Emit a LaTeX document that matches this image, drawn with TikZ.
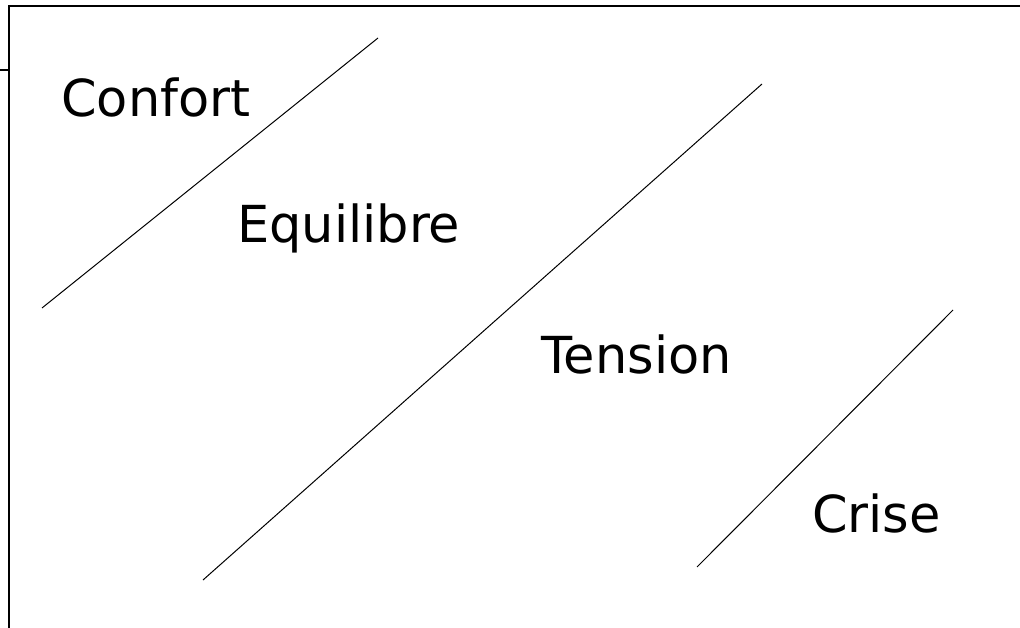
\documentclass[tikz,border=0pt]{standalone}
\usepackage{fontspec}
\setmainfont{DejaVu Sans}
\begin{document}
\begin{tikzpicture}[x=1pt,y=-1pt,
  lbl/.style={anchor=base west,inner sep=0pt,font=\fontsize{51}{60}\selectfont},
  sep/.style={line width=1pt},
  frame/.style={line width=1.8pt}]
\useasboundingbox (0,0) rectangle (1020,628);
\coordinate (tl) at (9,6);
\coordinate (tr) at (1020,6);
\coordinate (bl) at (9,628);
\coordinate (tk0) at (0,70);
\coordinate (tk1) at (9,70);
\draw[frame] (tr) -- (tl) -- (bl);
\draw[frame] (tk0) -- (tk1);
\coordinate (a1) at (42,308);
\coordinate (a2) at (378,38);
\coordinate (b1) at (203,580);
\coordinate (b2) at (762,84);
\coordinate (c1) at (697,567);
\coordinate (c2) at (953,310);
\draw[sep] (a1) -- (a2);
\draw[sep] (b1) -- (b2);
\draw[sep] (c1) -- (c2);
\node[lbl] (confort) at (61,117) {Confort};
\node[lbl] (equilibre) at (237,243) {Equilibre};
\node[lbl] (tension) at (541,373) {Tension};
\node[lbl] (crise) at (812,532) {Crise};
\end{tikzpicture}
\end{document}
